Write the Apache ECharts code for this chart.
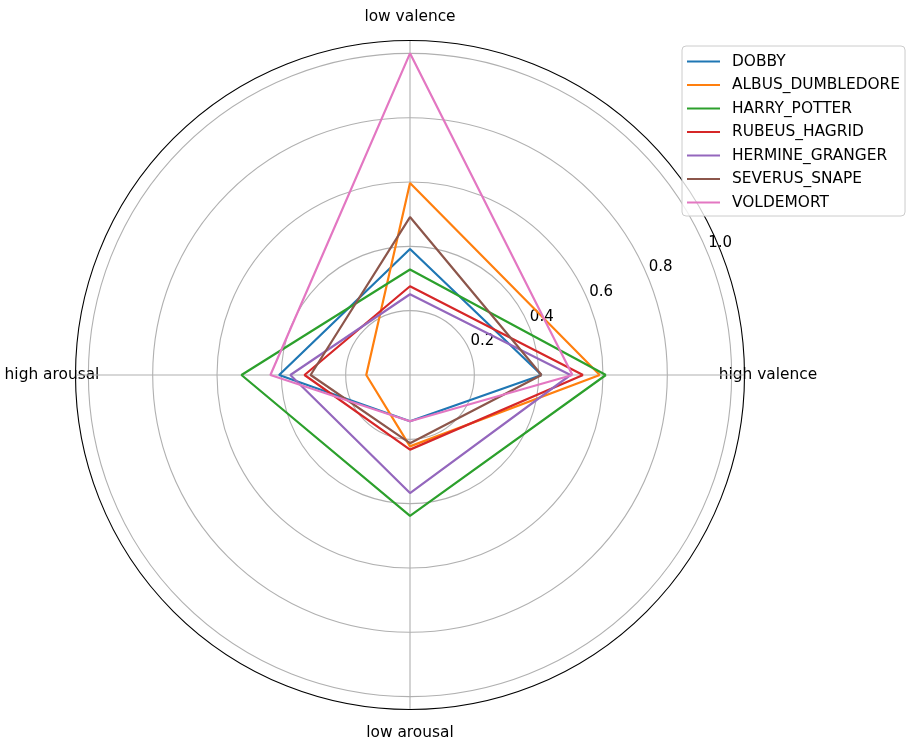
<!DOCTYPE html>
<html>
<head>
<meta charset="utf-8">
<script src="https://cdn.jsdelivr.net/npm/echarts@6/dist/echarts.min.js"></script>
<style>html,body{margin:0;padding:0;background:#fff;}#c{width:906px;height:741px;}</style>
</head>
<body>
<div id="c"></div>
<script>
// Directions (angle in degrees, counter-clockwise from the right) and their labels
const directionAngles = [0, 90, 180, 270];
const directionLabels = ['high valence', 'low valence', 'high arousal', 'low arousal'];
const radialTicks = [0.2, 0.4, 0.6, 0.8, 1.0];

const characters = ['DOBBY', 'ALBUS_DUMBLEDORE', 'HARRY_POTTER', 'RUBEUS_HAGRID', 'HERMINE_GRANGER', 'SEVERUS_SNAPE', 'VOLDEMORT'];
// values in order: high valence, low valence, high arousal, low arousal
const dobby     = [0.409, 0.392, 0.407, 0.144];
const dumbledore= [0.590, 0.597, 0.136, 0.222];
const harry     = [0.609, 0.328, 0.524, 0.438];
const hagrid    = [0.538, 0.276, 0.328, 0.232];
const hermine   = [0.499, 0.251, 0.372, 0.367];
const snape     = [0.409, 0.491, 0.309, 0.212];
const voldemort = [0.505, 1.000, 0.434, 0.144];
const seriesValues = [dobby, dumbledore, harry, hagrid, hermine, snape, voldemort];
const colors = ['#1f77b4', '#ff7f0e', '#2ca02c', '#d62728', '#9467bd', '#8c564b', '#e377c2'];

const FONT = 'DejaVu Sans';
const CENTER = [410, 375];
const RADIUS = 334.5;
const RMAX = 1.04;
const LABEL_BOX = 110;

function closedData(vals) {
  const d = vals.map((v, i) => [v, directionAngles[i]]);
  d.push([vals[0], directionAngles[0] + 360]);
  return d;
}

const chart = echarts.init(document.getElementById('c'), null, {renderer: 'canvas'});
chart.setOption({
  animation: false,
  backgroundColor: '#fff',
  color: colors,
  textStyle: {fontFamily: FONT},
  polar: [
    {center: CENTER, radius: RADIUS},
    {center: CENTER, radius: RADIUS}
  ],
  angleAxis: [
    {
      polarIndex: 0, type: 'value', min: 0, max: 360, interval: 90,
      startAngle: 0, clockwise: false,
      axisLine: {show: true, lineStyle: {color: '#000', width: 1.1}},
      axisTick: {show: false},
      axisLabel: {
        show: true, margin: 23.5 - LABEL_BOX / 2,
        formatter: function (v) {
          const i = directionAngles.indexOf(Math.round(v));
          return i >= 0 ? '{d|' + directionLabels[i] + '}' : '';
        },
        rich: {
          d: {
            width: LABEL_BOX, height: LABEL_BOX, lineHeight: LABEL_BOX,
            align: 'center', verticalAlign: 'middle',
            fontSize: 15.4, fontFamily: FONT, color: '#000'
          }
        }
      },
      splitLine: {show: true, lineStyle: {color: '#b0b0b0', width: 1.1}}
    },
    {
      polarIndex: 1, type: 'value', min: 0, max: 360, startAngle: 22.5, clockwise: false,
      show: false
    }
  ],
  radiusAxis: [
    {
      polarIndex: 0, type: 'value', min: 0, max: RMAX, interval: 0.2,
      axisLine: {show: false}, axisTick: {show: false}, axisLabel: {show: false},
      splitLine: {show: true, lineStyle: {
        color: ['#b0b0b0', '#b0b0b0', '#b0b0b0', '#b0b0b0', '#b0b0b0', '#b0b0b0', 'rgba(0,0,0,0)'],
        width: 1.1}}
    },
    {
      polarIndex: 1, type: 'value', min: 0, max: RMAX, interval: 0.2,
      axisLine: {show: false}, axisTick: {show: false}, splitLine: {show: false},
      axisLabel: {
        show: true, margin: 0, rotate: 0, align: 'left', verticalAlign: 'bottom',
        fontSize: 15, fontFamily: FONT, color: '#000', lineHeight: 18, padding: [0, 0, 0, 1],
        formatter: function (v) {
          for (const t of radialTicks) { if (Math.abs(v - t) < 1e-6) return t.toFixed(1); }
          return '';
        }
      }
    }
  ],
  legend: {
    orient: 'vertical', left: 682, top: 46,
    padding: [7, 5, 5, 5],
    icon: 'rect',
    itemWidth: 33, itemHeight: 2, itemGap: 6.5,
    borderColor: '#cccccc', borderWidth: 1, borderRadius: 4,
    backgroundColor: 'rgba(255,255,255,0.8)',
    textStyle: {fontSize: 15.4, fontFamily: FONT, color: '#000', lineHeight: 17, padding: [0, 0, 0, 7]},
    data: characters
  },
  series: characters.map((name, k) => ({
    name: name,
    type: 'line',
    coordinateSystem: 'polar',
    polarIndex: 0,
    symbol: 'none',
    showSymbol: false,
    lineStyle: {width: 2.2, color: colors[k]},
    itemStyle: {color: colors[k]},
    z: 3,
    data: closedData(seriesValues[k])
  }))
});
</script>
</body>
</html>
